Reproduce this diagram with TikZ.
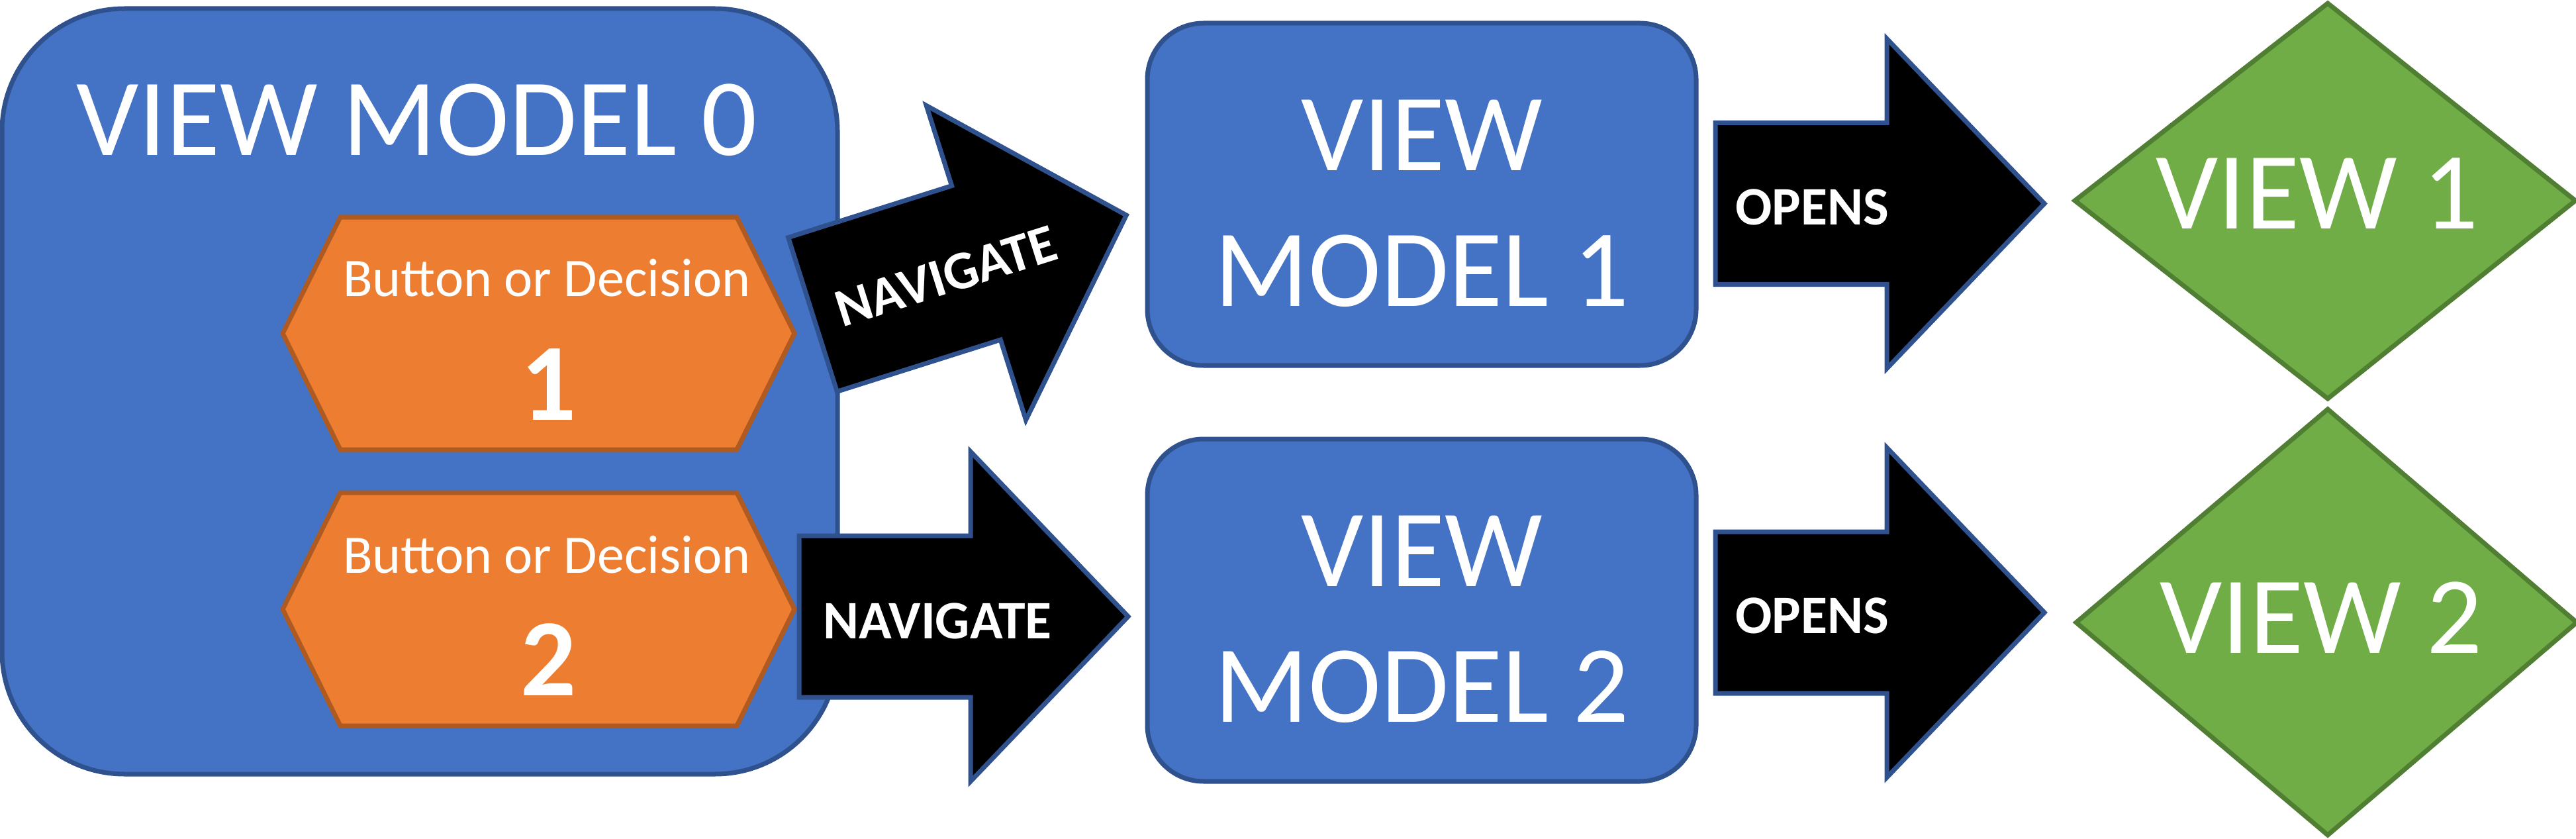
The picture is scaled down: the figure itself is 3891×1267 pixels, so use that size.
\documentclass[tikz,border=0pt]{standalone}
\usepackage{fontspec}
\setmainfont{Carlito}

\begin{document}
\begin{tikzpicture}[x=0.01cm, y=-0.01cm,
	vmbox/.style={fill=vmblue, draw=vmedge, line width=0.07cm},
	btnbox/.style={fill=btnorange, draw=btnedge, line width=0.07cm},
	viewbox/.style={fill=viewgreen, draw=viewedge, line width=0.07cm},
	arrowbox/.style={fill=black, draw=vmedge, line width=0.07cm},
	bigtext/.style={text=white, inner sep=0pt, font=\fontsize{47.2}{58.3}\selectfont},
	smalltext/.style={text=white, inner sep=0pt, font=\fontsize{23.3}{28}\selectfont},
	numtext/.style={text=white, inner sep=0pt, font=\fontsize{47.2}{58.3}\selectfont\bfseries},
	arrowtext/.style={text=white, inner sep=0pt, font=\fontsize{23.3}{28}\selectfont\bfseries},
	blockarrow/.pic={\draw[arrowbox] (0,-122) -- (259,-122) -- (259,-249) -- (497,0) -- (259,249) -- (259,122) -- (0,122) -- cycle;}]
			% Define colors
			\definecolor{vmblue}{HTML}{4472C4}      % view model fill
			\definecolor{vmedge}{HTML}{2F528F}      % dark blue outline
			\definecolor{btnorange}{HTML}{ED7D31}   % button fill
			\definecolor{btnedge}{HTML}{AE5A21}     % button outline
			\definecolor{viewgreen}{HTML}{70AD47}   % view fill
			\definecolor{viewedge}{HTML}{507E32}    % view outline
			
			% Page size
			\fill[white] (0,0) rectangle (3891,1267);
			\useasboundingbox (0,0) rectangle (3891,1267);
			
			% View model 0 with its two buttons
			\draw[vmbox, rounded corners=1.85cm] (3,13) rectangle (1265,1169);
			\draw[btnbox] (427,503.5) -- (514,328) -- (1113,328) -- (1200,503.5) -- (1113,679) -- (514,679) -- cycle;
			\draw[btnbox] (427,920) -- (514,744) -- (1113,744) -- (1200,920) -- (1113,1096) -- (514,1096) -- cycle;
			
			% Navigate arrows
			\pic[rotate=17.57] at (1227.5,475) {blockarrow};
			\pic at (1207,931) {blockarrow};
			
			% View models 1 and 2
			\draw[vmbox, rounded corners=0.85cm] (1733,35) rectangle (2562,552);
			\draw[vmbox, rounded corners=0.85cm] (1733,663) rectangle (2562,1180);
			
			% Opens arrows
			\pic at (2591,307.5) {blockarrow};
			\pic at (2591,925) {blockarrow};
			
			% Views
			\draw[viewbox] (3134,303) -- (3516,5) -- (3890,303) -- (3516,602) -- cycle;
			\draw[viewbox] (3136,940) -- (3516,618) -- (3892,940) -- (3516,1261) -- cycle;
			
			% Labels
			\node[bigtext, anchor=base] (vm0) at (630,235) {VIEW MODEL 0};
			\node[smalltext, anchor=base] (btn1) at (826,448) {Button or Decision};
			\node[numtext, anchor=base] (num1) at (829,634) {1};
			\node[smalltext, anchor=base] (btn2) at (826,865) {Button or Decision};
			\node[numtext, anchor=base] (num2) at (829,1050) {2};
			\node[arrowtext, rotate=17.57] (nav1) at (1429,417) {NAVIGATE};
			\node[arrowtext] (nav2) at (1416,937.5) {NAVIGATE};
			\node[bigtext, align=center, anchor=north] (vm1) at (2147.5,150) {VIEW\\MODEL 1};
			\node[bigtext, align=center, anchor=north] (vm2) at (2147.5,778) {VIEW\\MODEL 2};
			\node[arrowtext] (opens1) at (2737,313) {OPENS};
			\node[arrowtext] (opens2) at (2737,929.5) {OPENS};
			\node[bigtext, anchor=base] (view1) at (3500,346) {VIEW 1};
			\node[bigtext, anchor=base] (view2) at (3506,986) {VIEW 2};
		\end{tikzpicture}
\end{document}
